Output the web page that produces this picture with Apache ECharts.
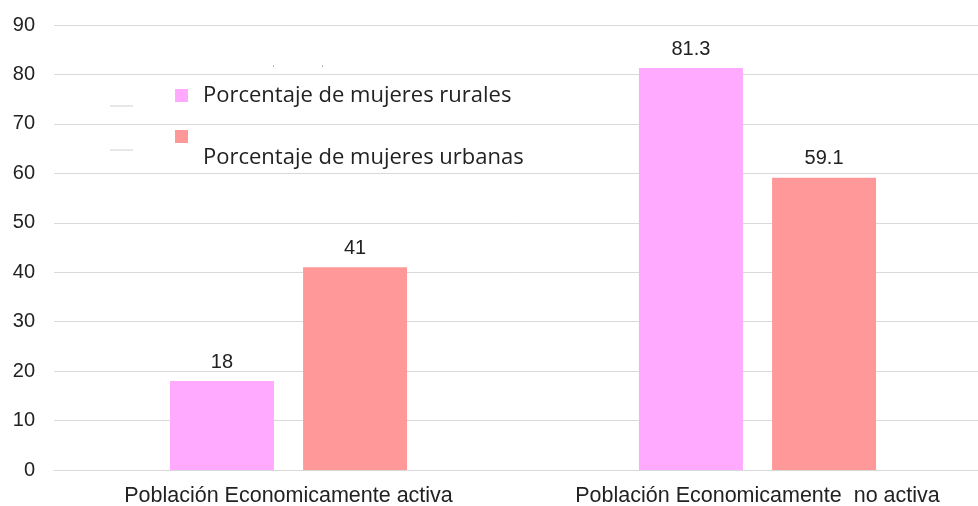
<!DOCTYPE html>
<html><head><meta charset="utf-8">
<script src="https://cdn.jsdelivr.net/npm/echarts@6/dist/echarts.min.js"></script>
<style>html,body{margin:0;padding:0;background:#fff}#c{width:978px;height:506px}</style>
</head><body><div id="c"></div>
<script>
const categories = ['Población Economicamente activa', 'Población Economicamente  no activa'];
const seriesNames = ['Porcentaje de mujeres rurales', 'Porcentaje de mujeres urbanas'];
const rurales = [18, 81.3];
const urbanas = [41, 59.1];
const yTicks = [0, 10, 20, 30, 40, 50, 60, 70, 80, 90];

const colors = ['#FFAAFF', '#FF9999'];
const chart = echarts.init(document.getElementById('c'));
const labelStyle = { show: true, position: 'top', distance: 9, fontFamily: 'Liberation Sans, Arial', fontSize: 20, color: '#222' };
chart.setOption({
  animation: false,
  color: colors,
  grid: { left: 54, top: 25, width: 938, height: 445, containLabel: false, outerBoundsMode: 'none' },
  legend: {
    orient: 'vertical', left: 170, top: 84, itemWidth: 13, itemHeight: 13, itemGap: 28,
    icon: 'rect', data: seriesNames, formatter: () => '', textStyle: { fontSize: 1 }
  },
  graphic: [
    { type: 'text', x: 203, y: 96, style: { text: seriesNames[0], fontFamily: 'Open Sans', fontSize: 22, fill: '#222', textVerticalAlign: 'middle' } },
    { type: 'text', x: 203, y: 158, style: { text: seriesNames[1], fontFamily: 'Open Sans', fontSize: 22, fill: '#222', textVerticalAlign: 'middle' } },
    { type: 'line', shape: { x1: 110, y1: 106, x2: 133, y2: 106 }, style: { stroke: '#d0d0d0', lineWidth: 1 } },
    { type: 'line', shape: { x1: 110, y1: 150, x2: 133, y2: 150 }, style: { stroke: '#d0d0d0', lineWidth: 1 } },
    { type: 'line', shape: { x1: 273.5, y1: 65, x2: 273.5, y2: 67 }, style: { stroke: '#bbb', lineWidth: 1 } },
    { type: 'line', shape: { x1: 322.5, y1: 65, x2: 322.5, y2: 67 }, style: { stroke: '#bbb', lineWidth: 1 } }
  ],
  xAxis: {
    type: 'category', data: categories,
    axisLine: { show: true, lineStyle: { color: '#d9d9d9', width: 1 } },
    axisTick: { show: false },
    axisLabel: { interval: 0, hideOverlap: false, margin: 15, fontFamily: 'Liberation Sans, Arial', fontSize: 21.5, color: '#222' }
  },
  yAxis: {
    type: 'value', min: yTicks[0], max: yTicks[yTicks.length - 1], interval: 10,
    axisLine: { show: false }, axisTick: { show: false },
    splitLine: { lineStyle: { color: '#d9d9d9', width: 1 } },
    axisLabel: { margin: 19, fontFamily: 'Liberation Sans, Arial', fontSize: 20, color: '#222' }
  },
  series: [
    { name: seriesNames[0], type: 'bar', data: rurales, barWidth: 104, barGap: '28%', label: labelStyle },
    { name: seriesNames[1], type: 'bar', data: urbanas, barWidth: 104, barGap: '28%', label: labelStyle }
  ]
});
</script></body></html>
